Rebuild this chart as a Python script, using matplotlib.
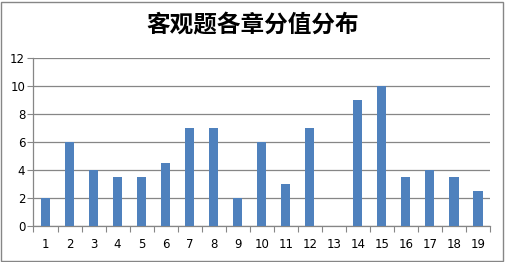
import matplotlib.pyplot as plt
from matplotlib.patches import Rectangle
import numpy as np

plt.rcParams['font.family'] = ['Noto Sans CJK SC', 'DejaVu Sans']

chapters = [str(i) for i in range(1, 20)]
scores = [2, 6, 4, 3.5, 3.5, 4.5, 7, 7, 2, 6, 3, 7, 0, 9, 10, 3.5, 4, 3.5, 2.5]
yticks = [0, 2, 4, 6, 8, 10, 12]

fig = plt.figure(figsize=(5.05, 2.62), dpi=100)
ax = fig.add_axes([0.0663, 0.1374, 0.904, 0.641])

x = np.arange(len(chapters))
ax.bar(x, scores, width=0.38, color='#4F81BD', zorder=3)

ax.set_xlim(-0.5, len(chapters) - 0.5)
ax.set_ylim(0, 12)
ax.set_yticks(yticks)
ax.set_yticklabels([str(v) for v in yticks], fontsize=8.5, family='DejaVu Sans')
ax.set_xticks(x)
ax.set_xticklabels(chapters, fontsize=8.5, family='DejaVu Sans')
ax.set_xticks(np.arange(-0.5, len(chapters)), minor=True)
ax.tick_params(axis='x', which='major', length=0, pad=8.5)
ax.tick_params(axis='x', which='minor', length=4, color='#868686', width=0.8)
ax.tick_params(axis='y', length=4, color='#868686', width=0.8, pad=2)
ax.grid(axis='y', color='#868686', linewidth=0.9, zorder=0)

for side in ['top', 'right']:
    ax.spines[side].set_visible(False)
for side in ['left', 'bottom']:
    ax.spines[side].set_color('#868686')
    ax.spines[side].set_linewidth(0.9)

fig.text(0.5, 0.905, '客观题各章分值分布', ha='center', va='center',
         fontsize=17, fontweight='bold', color='black')

fig.patches.append(Rectangle((0.002, 0.004), 0.994, 0.99, transform=fig.transFigure,
                             fill=False, edgecolor='#868686', linewidth=1))

fig.savefig('out.png', dpi=100)
